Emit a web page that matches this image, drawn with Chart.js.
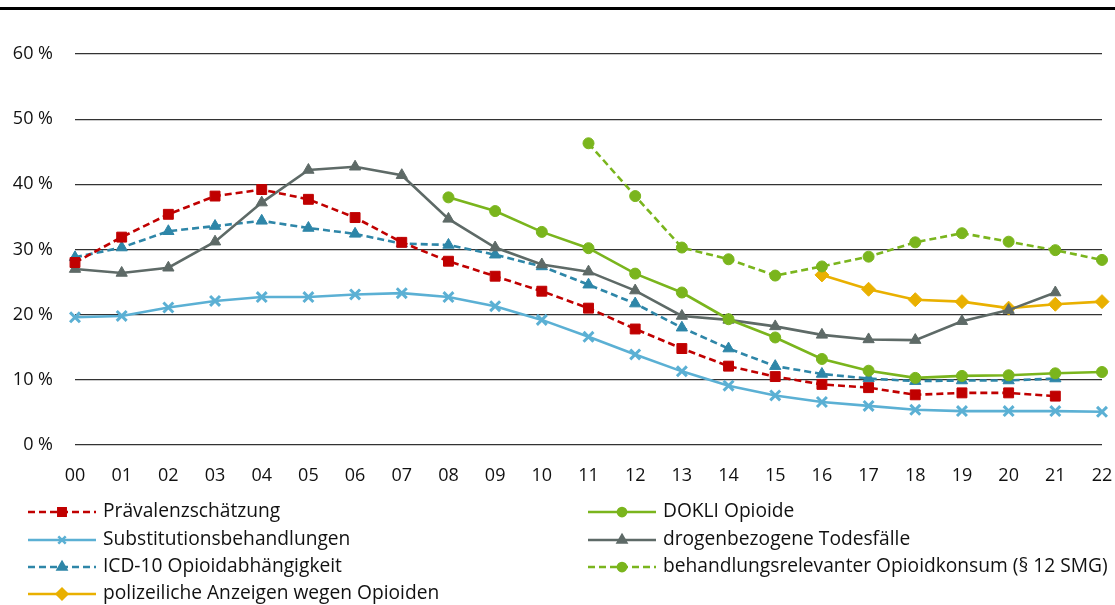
<!DOCTYPE html>
<html>
<head>
<meta charset="utf-8">
<script src="https://cdn.jsdelivr.net/npm/chart.js@4"></script>
<style>
  html, body { margin: 0; padding: 0; background: #fff; }
  #wrap { width: 1115px; height: 605px; }
</style>
</head>
<body>
<div id="wrap"><canvas id="line-chart" width="1115" height="605"></canvas></div>
<script>
// Years (x axis)
var years = ["00", "01", "02", "03", "04", "05", "06", "07", "08", "09", "10",
             "11", "12", "13", "14", "15", "16", "17", "18", "19", "20", "21", "22"];

// Series values in %
var praevalenz = [28.0, 31.9, 35.4, 38.2, 39.2, 37.7, 34.9, 31.1, 28.2, 25.9, 23.6,
                  21.0, 17.8, 14.8, 12.1, 10.5, 9.3, 8.8, 7.7, 8.0, 8.0, 7.5, null];
var dokli = [null, null, null, null, null, null, null, null, 38.0, 35.9, 32.7,
             30.2, 26.3, 23.4, 19.3, 16.5, 13.2, 11.4, 10.3, 10.6, 10.7, 11.0, 11.2];
var substitution = [19.6, 19.8, 21.1, 22.1, 22.7, 22.7, 23.1, 23.3, 22.7, 21.3, 19.2,
                    16.6, 13.9, 11.3, 9.1, 7.6, 6.6, 6.0, 5.4, 5.2, 5.2, 5.2, 5.1];
var todesfaelle = [27.0, 26.4, 27.2, 31.2, 37.2, 42.2, 42.7, 41.4, 34.7, 30.3, 27.7,
                   26.6, 23.7, 19.8, 19.2, 18.2, 16.9, 16.2, 16.1, 19.0, 20.7, 23.4, null];
var icd10 = [28.8, 30.3, 32.8, 33.6, 34.4, 33.3, 32.4, 30.9, 30.7, 29.2, 27.4,
             24.6, 21.7, 18.0, 14.8, 12.1, 10.9, 10.2, 9.8, 9.9, 9.9, 10.2, null];
var behandlung = [null, null, null, null, null, null, null, null, null, null, null,
                  46.3, 38.2, 30.3, 28.5, 26.0, 27.4, 28.9, 31.1, 32.5, 31.2, 29.9, 28.4];
var anzeigen = [null, null, null, null, null, null, null, null, null, null, null,
                null, null, null, null, null, 26.1, 23.9, 22.3, 22.0, 21.0, 21.6, 22.0];

var yTicks = [0, 10, 20, 30, 40, 50, 60];

var RED = "#C00000", CYAN = "#5BB0D4", TEAL = "#2E86A8", GOLD = "#E9B000",
    GREEN = "#7AB51D", GREY = "#5E6A67";
var FONT = "'Open Sans', 'Noto Sans', sans-serif";

function series(label, data, color, style, radius, dashed) {
    return {
        label: label,
        data: data,
        borderColor: color,
        backgroundColor: color,
        pointBackgroundColor: color,
        pointBorderColor: color,
        pointStyle: style,
        pointRadius: radius,
        pointHoverRadius: radius,
        pointBorderWidth: style === "crossRot" ? 3 : 1,
        borderWidth: 2.6,
        borderDash: dashed ? [7, 4] : [],
        tension: 0,
        fill: false
    };
}

// Legend order in two columns (left, right)
var legendLayout = [
    { ds: 0, col: 0, row: 0 }, { ds: 1, col: 1, row: 0 },
    { ds: 2, col: 0, row: 1 }, { ds: 3, col: 1, row: 1 },
    { ds: 4, col: 0, row: 2 }, { ds: 5, col: 1, row: 2 },
    { ds: 6, col: 0, row: 3 }
];

var extras = {
    id: "extras",
    beforeDraw: function (chart) {
        var ctx = chart.ctx;
        ctx.save();
        ctx.fillStyle = "#000";
        ctx.fillRect(0, 7, chart.width, 3);
        ctx.restore();
    },
    afterDraw: function (chart) {
        var ctx = chart.ctx;
        var colX = [28, 588], rowY = [512, 540, 567, 594];
        ctx.save();
        legendLayout.forEach(function (l) {
            var ds = chart.data.datasets[l.ds];
            var x0 = colX[l.col], y = rowY[l.row], len = 68;
            ctx.strokeStyle = ds.borderColor;
            ctx.lineWidth = 2.5;
            ctx.setLineDash(ds.borderDash);
            ctx.beginPath();
            ctx.moveTo(x0, y);
            ctx.lineTo(x0 + len, y);
            ctx.stroke();
            ctx.setLineDash([]);
            ctx.fillStyle = ds.backgroundColor;
            Chart.helpers.drawPoint(ctx, {
                pointStyle: ds.pointStyle,
                radius: ds.pointRadius * 0.75,
                rotation: 0,
                borderWidth: ds.pointBorderWidth
            }, x0 + len / 2, y);
            ctx.fillStyle = "#111";
            ctx.font = "19.2px " + FONT;
            ctx.textBaseline = "middle";
            ctx.textAlign = "left";
            ctx.fillText(ds.label, x0 + len + 7, y);
        });
        ctx.restore();
    }
};

new Chart(document.getElementById("line-chart"), {
    type: "line",
    data: {
        labels: years,
        datasets: [
            series("Prävalenzschätzung", praevalenz, RED, "rect", 7, true),
            series("DOKLI Opioide", dokli, GREEN, "circle", 5.5, false),
            series("Substitutionsbehandlungen", substitution, CYAN, "crossRot", 7, false),
            series("drogenbezogene Todesfälle", todesfaelle, GREY, "triangle", 6.5, false),
            series("ICD-10 Opioidabhängigkeit", icd10, TEAL, "triangle", 6.5, true),
            series("behandlungsrelevanter Opioidkonsum (§ 12 SMG)", behandlung, GREEN, "circle", 5.5, true),
            series("polizeiliche Anzeigen wegen Opioiden", anzeigen, GOLD, "rectRot", 7, false)
        ]
    },
    options: {
        responsive: false,
        animation: false,
        layout: { padding: { top: 54, right: 0, left: 0, bottom: 0 } },
        plugins: {
            legend: { display: false },
            title: { display: false },
            tooltip: { enabled: false }
        },
        scales: {
            x: {
                offset: false,
                grid: { display: false, drawTicks: false },
                border: { display: false },
                ticks: {
                    color: "#111",
                    font: { family: FONT, size: 18 },
                    padding: 20,
                    maxRotation: 0,
                    autoSkip: false
                },
                afterFit: function (scale) {
                    scale.height = 160;
                    scale.paddingLeft = 0;
                    scale.paddingRight = 13;
                }
            },
            y: {
                min: 0,
                max: 60,
                afterBuildTicks: function (scale) {
                    scale.ticks = yTicks.map(function (v) { return { value: v }; });
                },
                grid: { color: "#333", lineWidth: 1.2, drawTicks: false },
                border: { display: false },
                ticks: {
                    color: "#111",
                    font: { family: FONT, size: 18 },
                    padding: 22,
                    callback: function (v) { return v + " %"; }
                },
                afterFit: function (scale) { scale.width = 75; }
            }
        }
    },
    plugins: [extras]
});
</script>
</body>
</html>
